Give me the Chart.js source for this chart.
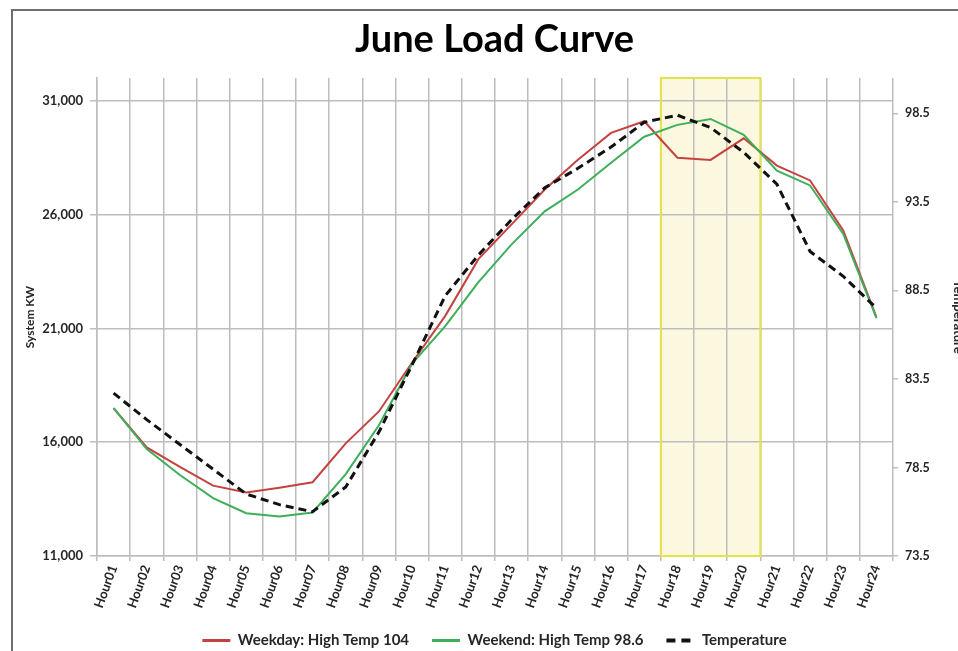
<!DOCTYPE html>
<html>
<head>
<meta charset="utf-8">
<script src="https://cdn.jsdelivr.net/npm/chart.js@4"></script>
<style>
  html, body { margin: 0; padding: 0; background: #fff; overflow: hidden; width: 958px; height: 651px; }
  #frame { position: absolute; left: 11px; top: 9px; width: 2000px; height: 2000px; border: 2px solid #6e6e6e; }
  #wrap { position: absolute; left: 0; top: 0; width: 969px; height: 651px; }
</style>
</head>
<body>
<div id="frame"></div>
<div id="wrap"><canvas id="c" width="969" height="651"></canvas></div>
<script>
const hours = ['Hour01','Hour02','Hour03','Hour04','Hour05','Hour06','Hour07','Hour08','Hour09','Hour10','Hour11','Hour12',
               'Hour13','Hour14','Hour15','Hour16','Hour17','Hour18','Hour19','Hour20','Hour21','Hour22','Hour23','Hour24'];
const weekdayKW = [17500, 15770, 14920, 14090, 13790, 14000, 14240, 15950, 17350, 19500, 21550, 24040,
                   25570, 27100, 28410, 29590, 30100, 28500, 28400, 29350, 28150, 27500, 25300, 21500];
const weekendKW = [17500, 15700, 14560, 13540, 12880, 12740, 12910, 14600, 16740, 19450, 21100, 23030,
                   24690, 26140, 27100, 28280, 29420, 29940, 30200, 29500, 27930, 27280, 25150, 21450];
const temperature = [82.7, 81.2, 79.8, 78.4, 77.0, 76.4, 76.0, 77.4, 80.5, 84.3, 88.2, 90.5,
                     92.5, 94.3, 95.4, 96.6, 98.0, 98.4, 97.7, 96.3, 94.5, 90.7, 89.3, 87.5];
const kwTicks = [11000, 16000, 21000, 26000, 31000];
const tempTicks = [73.5, 78.5, 83.5, 88.5, 93.5, 98.5];
const highlightStart = 'Hour18';
const highlightEnd = 'Hour20';
const kwRange = [11000, 32000];
const tempRange = [73.5, 100.5];

const GRID = '#bdbdbd';

function boxBounds(chart) {
  const x = chart.scales.x;
  const i0 = hours.indexOf(highlightStart), i1 = hours.indexOf(highlightEnd);
  const half = (x.getPixelForValue(1) - x.getPixelForValue(0)) / 2;
  return [x.getPixelForValue(i0) - half, x.getPixelForValue(i1) + half];
}

const highlightPlugin = {
  id: 'peakBox',
  beforeDraw(chart) {
    const area = chart.chartArea;
    const [left, right] = boxBounds(chart);
    const ctx = chart.ctx;
    ctx.save();
    ctx.fillStyle = '#fcf8df';
    ctx.fillRect(left, area.top, right - left, area.bottom - area.top);
    ctx.restore();
  },
  beforeDatasetsDraw(chart) {
    const area = chart.chartArea;
    const [left, right] = boxBounds(chart);
    const ctx = chart.ctx;
    ctx.save();
    ctx.strokeStyle = '#e3e34a';
    ctx.lineWidth = 2;
    ctx.strokeRect(left, area.top, right - left, area.bottom - area.top);
    ctx.restore();
  }
};

Chart.defaults.font.family = 'Lato, "Open Sans", sans-serif';
Chart.defaults.font.weight = 'bold';
Chart.defaults.color = '#262626';

new Chart(document.getElementById('c'), {
  type: 'line',
  data: {
    labels: hours,
    datasets: [
      { label: 'Weekday: High Temp 104', data: weekdayKW, yAxisID: 'y', borderColor: '#c4423f', backgroundColor: '#c4423f',
        borderWidth: 2, pointRadius: 0, tension: 0, order: 2 },
      { label: 'Weekend: High Temp 98.6', data: weekendKW, yAxisID: 'y', borderColor: '#3fae5b', backgroundColor: '#3fae5b',
        borderWidth: 2, pointRadius: 0, tension: 0, order: 1 },
      { label: 'Temperature', data: temperature, yAxisID: 'y1', borderColor: '#111', backgroundColor: '#111',
        borderWidth: 3, borderDash: [8, 5], pointRadius: 0, tension: 0, order: 0 }
    ]
  },
  options: {
    responsive: false,
    animation: false,
    layout: { padding: { left: 20, right: 0, top: 0, bottom: -7 } },
    plugins: {
      title: { display: true, text: 'June Load Curve', color: '#000',
               font: { size: 38, weight: 'bold', family: 'Lato, sans-serif' }, padding: { top: 17, bottom: 15.4 } },
      legend: { position: 'bottom',
        labels: { usePointStyle: true, pointStyle: 'line', pointStyleWidth: 28, padding: 23,
                  font: { size: 15, weight: 'bold' }, color: '#262626',
                  sort: (a, b) => a.datasetIndex - b.datasetIndex,
                  generateLabels(chart) {
                    const items = Chart.defaults.plugins.legend.labels.generateLabels(chart);
                    items.forEach(it => {
                      const ds = chart.data.datasets[it.datasetIndex];
                      it.lineDash = ds.borderDash ? [9, 6] : [];
                      it.lineWidth = ds.borderWidth + 1;
                      it.strokeStyle = ds.borderColor;
                    });
                    return items;
                  } } },
      tooltip: { enabled: false }
    },
    scales: {
      x: {
        offset: true,
        grid: { offset: true, color: GRID, lineWidth: 1.5, tickLength: 5, tickColor: GRID },
        border: { color: GRID, width: 1.5 },
        ticks: { autoSkip: false, minRotation: 70, maxRotation: 70, padding: 2, font: { size: 13, weight: 'bold' } },
        afterFit(s) { s.height = 54; }
      },
      y: {
        position: 'left', min: kwRange[0], max: kwRange[1],
        grid: { color: GRID, lineWidth: 1.5, tickLength: 7, tickColor: GRID },
        border: { color: GRID, width: 1.5 },
        afterBuildTicks(s) { s.ticks = kwTicks.map(v => ({ value: v })); },
        ticks: { padding: 7, font: { size: 13, weight: 'bold' } },
        title: { display: true, text: 'System KW', font: { size: 12, weight: 'bold' }, padding: { top: 3, bottom: 3 } },
        afterFit(s) { s.width = 77; }
      },
      y1: {
        position: 'right', min: tempRange[0], max: tempRange[1],
        grid: { drawOnChartArea: false, color: GRID, lineWidth: 1.5, tickLength: 5, tickColor: GRID },
        border: { display: false },
        afterBuildTicks(s) { s.ticks = tempTicks.map(v => ({ value: v })); },
        ticks: { padding: 7, font: { size: 12.5, weight: 'bold' } },
        title: { display: true, text: 'Temperature', font: { size: 13, weight: 'bold' }, padding: { top: 3, bottom: 3 } },
        afterFit(s) { s.width = 76; }
      }
    }
  },
  plugins: [highlightPlugin]
});
</script>
</body>
</html>
